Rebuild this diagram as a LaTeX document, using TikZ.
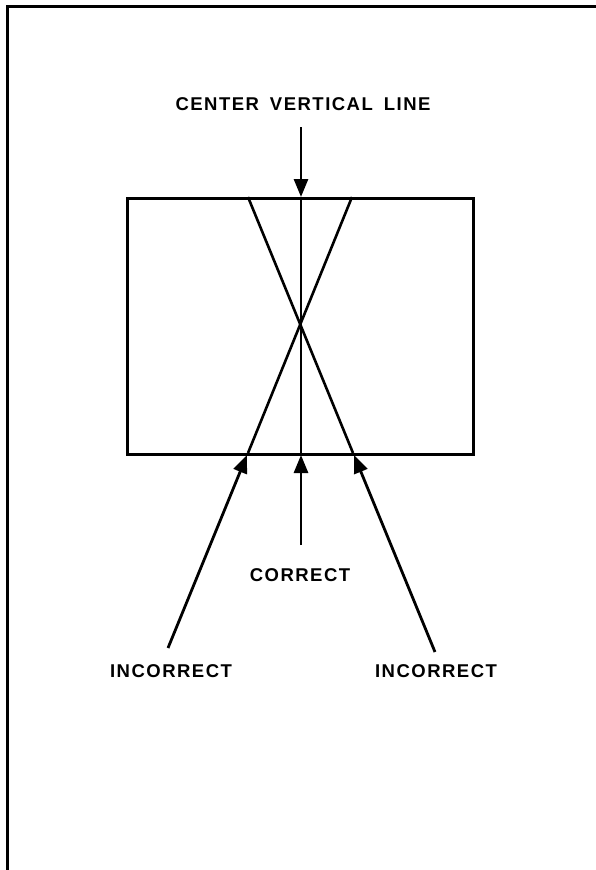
\documentclass[tikz,border=0pt]{standalone}
\usepackage{fontspec}
\setmainfont{Liberation Sans}
\newfontfamily\lblfont[LetterSpace=8]{Liberation Sans}
\usetikzlibrary{arrows.meta}
\newcommand{\wgap}{\hspace{11pt}}
\tikzset{
  lbl/.style={font=\lblfont\bfseries\fontsize{18.5}{20}\selectfont, inner sep=0pt},
  pointer/.style={-{Triangle[width=14pt,length=18pt]}, line width=2.8pt},
  stroke/.style={line width=2.6pt}
}
\begin{document}
\begin{tikzpicture}[x=1pt,y=-1pt]
  \useasboundingbox (0,0) rectangle (595,870);
  % page frame
  \draw[line width=3pt] (7,870) -- (7,6) -- (598,6);
  % screen
  \node[draw, stroke, minimum width=346pt, minimum height=256pt, inner sep=0pt, anchor=north west] (screen) at (126,197) {};
  \coordinate (topL) at (248,197);
  \coordinate (topC) at (301,197);
  \coordinate (topR) at (352,197);
  \coordinate (botL) at (248,453);
  \coordinate (botC) at (301,453);
  \coordinate (botR) at (353,453);
  \draw[stroke] (topC) -- (botC);
  \draw[stroke] (topL) -- (botR);
  \draw[stroke] (topR) -- (botL);
  % labels
  \node[lbl] (center) at (303,104) {CENTER\wgap VERTICAL\wgap LINE};
  \node[lbl] (correct) at (300,575) {CORRECT};
  \node[lbl] (wrongL) at (171,671) {INCORRECT};
  \node[lbl] (wrongR) at (436,671) {INCORRECT};
  % arrows
  \coordinate (tailC) at (301,127);
  \coordinate (tailB) at (301,545);
  \coordinate (tailL) at (168,648);
  \coordinate (tailR) at (435,652);
  \draw[pointer] (tailC) -- (topC);
  \draw[pointer] (tailB) -- (301,455);
  \draw[pointer] (tailL) -- (247,455);
  \draw[pointer] (tailR) -- (354,455);
\end{tikzpicture}
\end{document}
